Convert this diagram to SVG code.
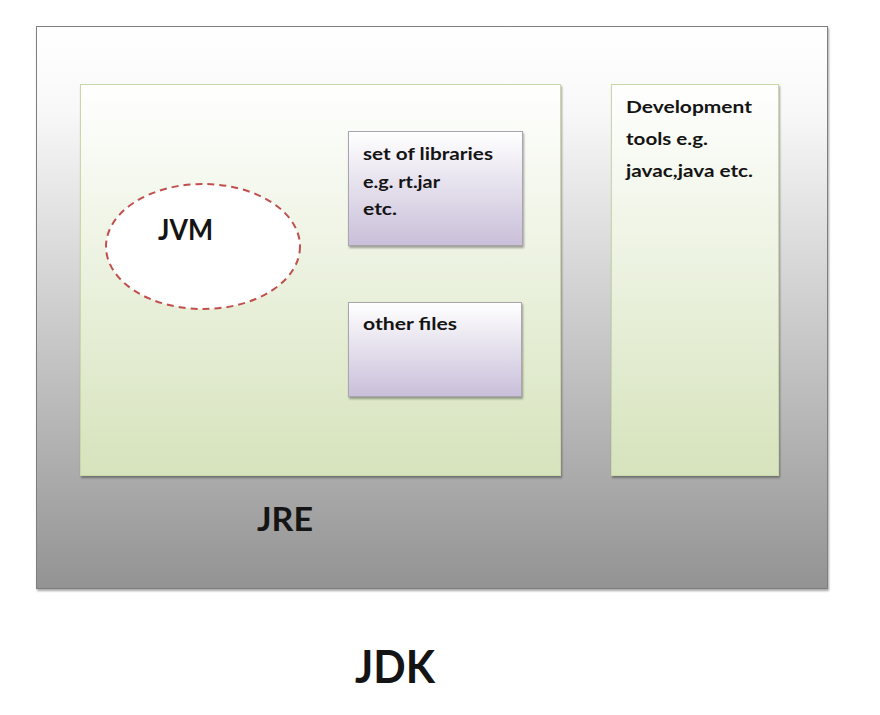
<svg xmlns="http://www.w3.org/2000/svg" width="880" height="715" viewBox="0 0 880 715">
  <defs>
    <linearGradient id="gJdk" x1="0" y1="0" x2="0" y2="1">
      <stop offset="0" stop-color="#ffffff"/>
      <stop offset="0.15" stop-color="#f8f8f8"/>
      <stop offset="1" stop-color="#939393"/>
    </linearGradient>
    <linearGradient id="gGreen" x1="0" y1="0" x2="0" y2="1">
      <stop offset="0" stop-color="#ffffff"/>
      <stop offset="1" stop-color="#d6e3bc"/>
    </linearGradient>
    <linearGradient id="gLav" x1="0" y1="0" x2="0" y2="1">
      <stop offset="0" stop-color="#ffffff"/>
      <stop offset="1" stop-color="#c9bfd9"/>
    </linearGradient>
    <filter id="shadow" x="-5%" y="-5%" width="110%" height="115%">
      <feGaussianBlur in="SourceAlpha" stdDeviation="1.2"/>
      <feOffset dx="1" dy="2" result="b"/>
      <feComponentTransfer><feFuncA type="linear" slope="0.35"/></feComponentTransfer>
      <feMerge><feMergeNode/><feMergeNode in="SourceGraphic"/></feMerge>
    </filter>
  </defs>
  <style>
    text { font-family: Lato, "Open Sans", "Liberation Sans", sans-serif; fill: #141414; }
    .small { font-size: 17px; font-weight: bold; }
    .green { fill: url(#gGreen); stroke: #c9d8a8; stroke-width: 1; }
    .lav { fill: url(#gLav); stroke: #a9a4b0; stroke-width: 1; }
  </style>
  <rect width="880" height="715" fill="#ffffff"/>

  <g id="jdk">
    <rect x="36.5" y="26.5" width="791" height="562" fill="url(#gJdk)" stroke="#7f7f7f" stroke-width="1" filter="url(#shadow)"/>
    <text x="355" y="683" font-size="46" font-weight="bold" textLength="80" lengthAdjust="spacingAndGlyphs">JDK</text>
  </g>

  <g id="jre">
    <rect x="80.5" y="84.5" width="480" height="391" class="green" filter="url(#shadow)"/>
    <text x="257" y="531" font-size="33" font-weight="bold" textLength="56" lengthAdjust="spacingAndGlyphs">JRE</text>
  </g>

  <g id="jvm">
    <ellipse cx="203" cy="246.5" rx="97" ry="62.5" fill="#ffffff" stroke="#c0504d" stroke-width="2" stroke-dasharray="7 5"/>
    <text x="158" y="240" font-size="28" font-weight="bold" textLength="55" lengthAdjust="spacingAndGlyphs">JVM</text>
  </g>

  <g id="libraries">
    <rect x="348.5" y="131.5" width="174" height="114" class="lav" filter="url(#shadow)"/>
    <text class="small" x="363" y="160" textLength="130" lengthAdjust="spacingAndGlyphs">set of libraries</text>
    <text class="small" x="363" y="188" textLength="77" lengthAdjust="spacingAndGlyphs">e.g. rt.jar</text>
    <text class="small" x="363" y="215" textLength="34" lengthAdjust="spacingAndGlyphs">etc.</text>
  </g>

  <g id="other-files">
    <rect x="348.5" y="302.5" width="173" height="94" class="lav" filter="url(#shadow)"/>
    <text class="small" x="363" y="330" textLength="94" lengthAdjust="spacingAndGlyphs">other files</text>
  </g>

  <g id="dev-tools">
    <rect x="611.5" y="84.5" width="167" height="391" class="green" filter="url(#shadow)"/>
    <text class="small" x="626" y="113" textLength="126" lengthAdjust="spacingAndGlyphs">Development</text>
    <text class="small" x="626" y="145" textLength="82" lengthAdjust="spacingAndGlyphs">tools e.g.</text>
    <text class="small" x="626" y="177" textLength="127" lengthAdjust="spacingAndGlyphs">javac,java etc.</text>
  </g>

  <g id="connectors"/>
</svg>
